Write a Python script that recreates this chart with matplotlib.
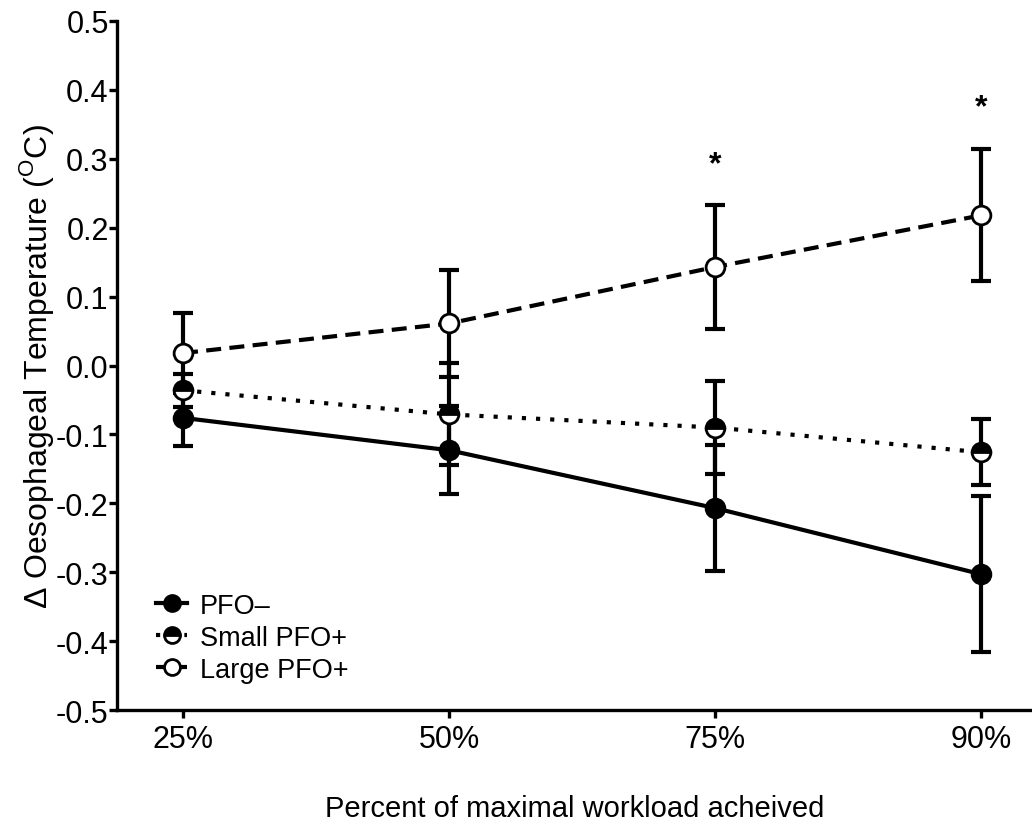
import matplotlib
matplotlib.use("Agg")
import matplotlib.pyplot as plt

plt.rcParams['font.family'] = ['Liberation Sans', 'DejaVu Sans']
plt.rcParams['mathtext.fontset'] = 'custom'
plt.rcParams['mathtext.rm'] = 'Liberation Sans'

# workload stages and group means / SEM (delta oesophageal temperature, C)
workload = ["25%", "50%", "75%", "90%"]
pfo_neg = [-0.076, -0.123, -0.207, -0.303]
pfo_neg_err = [0.041, 0.064, 0.091, 0.113]
small_pfo = [-0.036, -0.071, -0.090, -0.126]
small_pfo_err = [0.024, 0.074, 0.068, 0.048]
large_pfo = [0.018, 0.061, 0.143, 0.218]
large_pfo_err = [0.058, 0.078, 0.090, 0.096]
# significance stars above the large PFO+ group
star_idx = [2, 3]
star_y = [0.292, 0.375]

fig = plt.figure(figsize=(10.32, 8.29), dpi=100)
ax = fig.add_axes([0.1134, 0.1423, 0.8866, 0.8312])

x = list(range(len(workload)))
lw = 3.0
groups = [
    ("PFO\u2013", pfo_neg, pfo_neg_err, '-', dict(mfc='black', fillstyle='full')),
    ("Small PFO+", small_pfo, small_pfo_err, (0, (1, 2.4)), dict(mfc='black', fillstyle='top', mfcalt='white')),
    ("Large PFO+", large_pfo, large_pfo_err, (0, (3.6, 2.0)), dict(mfc='white', fillstyle='full')),
]
handles = []
for name, ys, errs, ls, mk in groups:
    ax.errorbar(x, ys, yerr=errs, fmt='none', ecolor='black', elinewidth=lw,
                capsize=7.5, capthick=lw, zorder=2)
    h, = ax.plot(x, ys, color='black', linestyle=ls, linewidth=lw,
                 marker='o', markersize=13.5, mec='black', mew=2.0,
                 label=name, zorder=3, **mk)
    handles.append(h)

for i, sy in zip(star_idx, star_y):
    ax.text(x[i], sy, "*", ha='center', va='center', fontsize=23, fontweight='bold')

ax.set_xlim(-0.248, 3.19)
ax.set_ylim(-0.5, 0.5)
ax.set_xticks(x)
ax.set_xticklabels(workload)
ax.set_yticks([-0.5, -0.4, -0.3, -0.2, -0.1, 0.0, 0.1, 0.2, 0.3, 0.4, 0.5])
ax.set_yticklabels(["-0.5", "-0.4", "-0.3", "-0.2", "-0.1", "0.0", "0.1", "0.2", "0.3", "0.4", "0.5"])
ax.tick_params(axis='both', labelsize=22, width=2.4, length=6, direction='out')
ax.tick_params(axis='y', pad=0)
ax.tick_params(axis='x', pad=4)

for side in ['top', 'right']:
    ax.spines[side].set_visible(False)
for side in ['left', 'bottom']:
    ax.spines[side].set_linewidth(2.4)

ax.set_ylabel("\u0394 Oesophageal Temperature ($^{\\mathrm{O}}$C)", fontsize=23, labelpad=0)
ax.set_xlabel("Percent of maximal workload acheived", fontsize=21)
ax.xaxis.set_label_coords(0.5, -0.122)

ax.legend(handles=handles, loc='upper left', bbox_to_anchor=(0.028, 0.19),
          frameon=False, fontsize=19.5, handlelength=1.15, handletextpad=0.45,
          labelspacing=0.22, markerscale=0.85, borderpad=0)

fig.savefig("out.png", dpi=100)
